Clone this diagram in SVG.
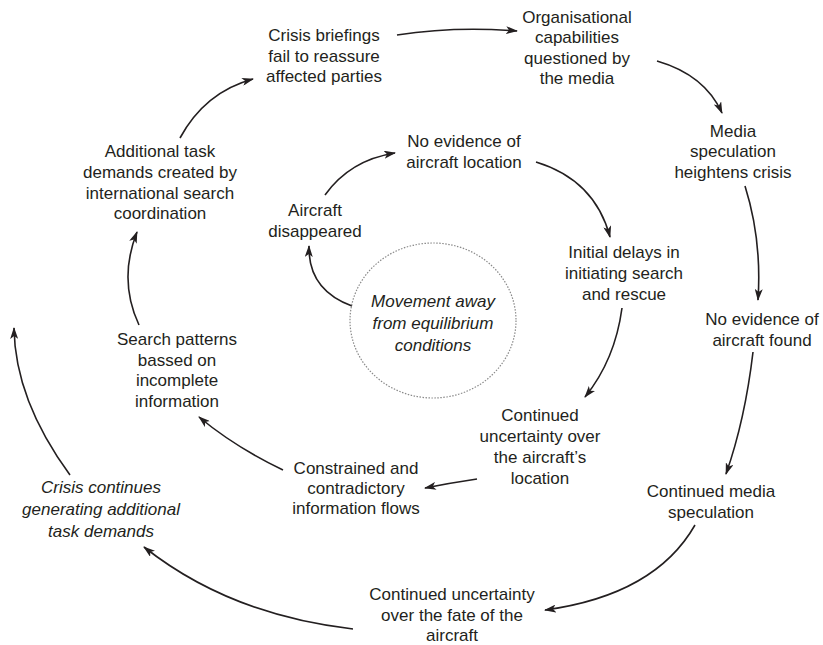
<svg xmlns="http://www.w3.org/2000/svg" width="823" height="645" viewBox="0 0 823 645">
<defs>
<style>
text{font-family:"Liberation Sans",Arial,sans-serif;font-size:17px;fill:#231f20;text-anchor:middle}
.it{font-style:italic}
.c{fill:none;stroke:#231f20;stroke-width:1.6;marker-end:url(#ah)}
</style>
<marker id="ah" viewBox="0 0 12 8" refX="11" refY="4" markerWidth="12" markerHeight="8" markerUnits="userSpaceOnUse" orient="auto">
<path d="M0,0 L12,4 L0,8 L3,4 z" fill="#231f20"/>
</marker>
</defs>
<rect width="823" height="645" fill="#fff"/>
<g id="connectors">
<path class="c" d="M397,35 Q455,26 517,31"/>
<path class="c" d="M657,61 Q705,75 722,113"/>
<path class="c" d="M745,186 Q762,240 758,300"/>
<path class="c" d="M753,352 Q745,420 726,474"/>
<path class="c" d="M695,525 Q655,595 545,610"/>
<path class="c" d="M353,629 Q230,615 144,547"/>
<path class="c" d="M70,475 Q15,400 14,328"/>
<path class="c" d="M283,470 Q235,447 199,417"/>
<path class="c" d="M139,325 Q118,280 137,232"/>
<path class="c" d="M180,138 Q205,92 253,79"/>
<path class="c" d="M352,306 Q308,290 309,246"/>
<path class="c" d="M325,195 Q350,160 395,153"/>
<path class="c" d="M536,162 Q595,180 610,237"/>
<path class="c" d="M622,308 Q615,360 585,397"/>
<path class="c" d="M477,479 Q450,483 425,488"/>
</g>
<g id="briefings"><text x="324" y="41">Crisis briefings</text><text x="324" y="62">fail to reassure</text><text x="324" y="82">affected parties</text></g>
<g id="organisational"><text x="577" y="23">Organisational</text><text x="577" y="43">capabilities</text><text x="577" y="64">questioned by</text><text x="577" y="84">the media</text></g>
<g id="media"><text x="733" y="137">Media</text><text x="733" y="157">speculation</text><text x="733" y="178">heightens crisis</text></g>
<g id="noevidence-found"><text x="762" y="325">No evidence of</text><text x="762" y="346">aircraft found</text></g>
<g id="cont-media"><text x="711" y="497">Continued media</text><text x="711" y="518">speculation</text></g>
<g id="fate"><text x="452" y="600">Continued uncertainty</text><text x="452" y="621">over the fate of the</text><text x="452" y="641">aircraft</text></g>
<g id="crisis-continues"><text class="it" x="101" y="493">Crisis continues</text><text class="it" x="101" y="515">generating additional</text><text class="it" x="101" y="537">task demands</text></g>
<g id="constrained"><text x="356" y="474">Constrained and</text><text x="356" y="494">contradictory</text><text x="356" y="514">information flows</text></g>
<g id="search"><text x="177" y="345">Search patterns</text><text x="177" y="366">bassed on</text><text x="177" y="386">incomplete</text><text x="177" y="407">information</text></g>
<g id="additional"><text x="160" y="157">Additional task</text><text x="160" y="178">demands created by</text><text x="160" y="199">international search</text><text x="160" y="219">coordination</text></g>
<g id="disappeared"><text x="315" y="216">Aircraft</text><text x="315" y="237">disappeared</text></g>
<g id="noevidence-location"><text x="464" y="147">No evidence of</text><text x="464" y="168">aircraft location</text></g>
<g id="delays"><text x="624" y="258">Initial delays in</text><text x="624" y="279">initiating search</text><text x="624" y="300">and rescue</text></g>
<g id="cont-location"><text x="540" y="421">Continued</text><text x="540" y="442">uncertainty over</text><text x="540" y="463">the aircraft’s</text><text x="540" y="484">location</text></g>
<g id="equilibrium"><ellipse cx="433" cy="320.5" rx="83" ry="77.5" fill="none" stroke="#8a8a8a" stroke-width="1.2" stroke-dasharray="1.5 1.5"/><text class="it" x="433" y="307">Movement away</text><text class="it" x="433" y="329">from equilibrium</text><text class="it" x="433" y="351">conditions</text></g>
</svg>
